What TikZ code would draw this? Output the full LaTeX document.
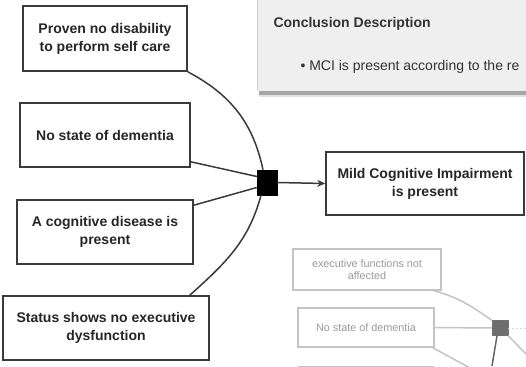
\documentclass[tikz,border=0pt]{standalone}
\usepackage{fontspec}
\setmainfont{Liberation Sans}
\usetikzlibrary{arrows.meta}
\definecolor{panelgray}{HTML}{EFEFEF}
\definecolor{boxline}{HTML}{3A3A3A}
\definecolor{fadeline}{HTML}{C4C4C4}
\definecolor{fadetext}{HTML}{9A9A9A}
\tikzset{
  mainbox/.style={draw=boxline, line width=1.6pt, fill=white, inner sep=0pt,
    font=\fontsize{14}{18}\selectfont\bfseries, text=black!85, align=center},
  fadebox/.style={draw=fadeline, line width=1.4pt, fill=white, inner sep=0pt,
    font=\fontsize{10.8}{12.5}\selectfont, text=fadetext, align=center},
  link/.style={draw=boxline, line width=1.5pt},
  fadelink/.style={draw=fadeline, line width=1.5pt},
}
\begin{document}
\begin{tikzpicture}[x=1pt, y=-1pt]
\useasboundingbox (0,0) rectangle (526,366);
\clip (0,0) rectangle (526,366);
\fill[white] (0,0) rectangle (526,366);

% conclusion panel with soft bottom shadow
\fill[black!12] (259,90) rectangle (540,97);
\fill[black!35] (259,91) rectangle (540,95.5);
\fill[panelgray] (257,-5) rectangle (540,91);
\draw[black!18, line width=0.8pt] (257.4,-5) -- (257.4,91);
\node[anchor=base west, font=\fontsize{14}{16}\selectfont\bfseries, text=black!80]
  (title) at (270,28) {Conclusion Description};
\node[anchor=base west, font=\fontsize{14}{16}\selectfont, text=black!80]
  (bullet) at (297,71) {\textbullet\ MCI is present according to the re};

% main rule
\node[mainbox, minimum width=164pt, minimum height=65pt] (b1) at (105,38.5)
  {Proven no disability\\to perform self care};
\node[mainbox, minimum width=170pt, minimum height=64pt] (b2) at (105,135)
  {No state of dementia};
\node[mainbox, minimum width=176pt, minimum height=64pt] (b3) at (105,232)
  {A cognitive disease is\\present};
\node[mainbox, minimum width=206pt, minimum height=64pt] (b4) at (106,328)
  {Status shows no executive\\dysfunction};
\node[draw=black, fill=black, minimum width=20pt, minimum height=25pt, inner sep=0pt]
  (sq) at (267,182.5) {};
\node[mainbox, minimum width=198pt, minimum height=63pt] (mci) at (425,183.5)
  {Mild Cognitive Impairment\\is present};

\draw[link] (b1.south east) to[out=-28, in=102] ([xshift=-4pt]sq.north);
\draw[link] ([yshift=6pt]b2.south east) -- ([yshift=6pt]sq.west);
\draw[link] ([yshift=-6pt]b3.north east) -- ([yshift=-5pt]sq.west);
\draw[link] ([xshift=-20pt]b4.north east) to[out=42, in=-105] ([xshift=-6pt]sq.south);
\draw[link, -{Stealth[length=8pt, width=7pt]}] (sq.east) -- (mci.west);

% faded second rule
\node[fadebox, minimum width=148pt, minimum height=41pt] (f1) at (367,269.5)
  {executive functions not\\affected};
\node[fadebox, minimum width=136pt, minimum height=39pt] (f2) at (366,327.5)
  {No state of dementia};
\node[fadebox, minimum width=134pt, minimum height=39pt] (f3) at (366,386) {};
\node[draw=black!55, fill=black!57, minimum width=16pt, minimum height=15pt, inner sep=0pt]
  (fsq) at (500,328) {};
\coordinate (e1) at (492,366);
\coordinate (e2) at (470,368);
\coordinate (e3) at (528,356);
\coordinate (e4) at (528,328);

\draw[fadelink] ([xshift=-8pt]f1.south east) to[out=-15, in=145] (fsq.north west);
\draw[fadelink] (f2.east) -- (fsq.west);
\draw[fadelink] ([xshift=-2pt]f2.south east) -- (e2);
\draw[fadelink, draw=black!60] ([xshift=-3pt]fsq.south) -- (e1);
\draw[fadelink] (fsq.south east) -- (e3);
\draw[draw=black!15, line width=1pt, dash pattern=on 2pt off 2pt] (fsq.east) -- (e4);
\end{tikzpicture}
\end{document}
